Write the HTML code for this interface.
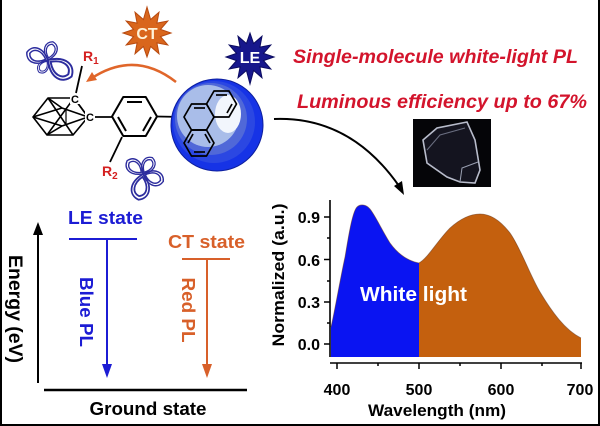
<!DOCTYPE html>
<html><head><meta charset="utf-8">
<style>
html,body{margin:0;padding:0;background:#fff;}
svg{display:block;}
text{font-family:"Liberation Sans",Arial,sans-serif;font-weight:bold;}
</style></head>
<body>
<svg width="600" height="426" viewBox="0 0 600 426" xmlns="http://www.w3.org/2000/svg">
<rect x="0" y="0" width="600" height="426" fill="#fff"/>
<!-- border -->
<rect x="0" y="0" width="2" height="426" fill="#000"/>
<rect x="598" y="0" width="2" height="426" fill="#000"/>
<rect x="0" y="424" width="600" height="2" fill="#000"/>

<defs>
<path id="lobe" d="M0,0 C8,-9 16,-7 18,0 C16,7 8,9 0,0 Z"/>
<path id="lobeIn" d="M2,0 C8,-6 14,-5 15.5,0 C14,5 8,6 2,0 Z"/>
</defs>

<!-- orbitals 1 -->
<g transform="translate(48,60)" fill="none" stroke="#2d2d9e" stroke-width="1.2">
 <g transform="rotate(-160) scale(1.25)"><use href="#lobe"/><use href="#lobeIn"/></g>
 <g transform="rotate(-75) scale(1.05)"><use href="#lobe"/><use href="#lobeIn"/></g>
 <g transform="rotate(35) scale(1.6)"><use href="#lobe"/><use href="#lobeIn"/></g>
 <g transform="rotate(125) scale(0.85)"><use href="#lobe"/><use href="#lobeIn"/></g>
</g>
<!-- orbitals 2 -->
<g transform="translate(143,174)" fill="none" stroke="#2d2d9e" stroke-width="1.2">
 <g transform="rotate(-140) scale(1.15)"><use href="#lobe"/><use href="#lobeIn"/></g>
 <g transform="rotate(-60) scale(1.05)"><use href="#lobe"/><use href="#lobeIn"/></g>
 <g transform="rotate(20) scale(1.2)"><use href="#lobe"/><use href="#lobeIn"/></g>
 <g transform="rotate(100) scale(1.45)"><use href="#lobe"/><use href="#lobeIn"/></g>
</g>

<!-- CT star -->
<polygon transform="translate(147,33)" fill="#d9661c" stroke="#b84a10" stroke-width="1"
 points="24,0 13.5,3.6 20.8,12 9.9,9.9 12,20.8 3.6,13.5 0,24 -3.6,13.5 -12,20.8 -9.9,9.9 -20.8,12 -13.5,3.6 -24,0 -13.5,-3.6 -20.8,-12 -9.9,-9.9 -12,-20.8 -3.6,-13.5 0,-26 3.6,-13.5 12,-20.8 9.9,-9.9 20.8,-12 13.5,-3.6"/>
<text x="147" y="39" font-size="16" fill="#fff3d8" text-anchor="middle">CT</text>

<!-- LE star -->
<polygon transform="translate(250,57)" fill="#17178c" stroke="#0c0c60" stroke-width="1"
 points="24,0 13.5,3.6 20.8,12 9.9,9.9 12,20.8 3.6,13.5 0,27 -3.6,13.5 -12,20.8 -9.9,9.9 -20.8,12 -13.5,3.6 -24,0 -13.5,-3.6 -20.8,-12 -9.9,-9.9 -12,-20.8 -3.6,-13.5 0,-24 3.6,-13.5 12,-20.8 9.9,-9.9 20.8,-12 13.5,-3.6"/>
<text x="250" y="63" font-size="16" fill="#fff" text-anchor="middle">LE</text>

<!-- orange arc arrow -->
<path d="M176,82 Q135,50 92,78" fill="none" stroke="#e0662a" stroke-width="2.5"/>
<polygon points="86,82 92,72 97,80" fill="#e0662a"/>

<!-- carborane -->
<g stroke="#000" stroke-width="1.6" fill="none" stroke-linejoin="round">
 <polygon points="33,117 48,98 74,98 88,117 73,135 47,135"/>
 <line x1="33" y1="117" x2="62" y2="108"/>
 <line x1="33" y1="117" x2="62" y2="126"/>
 <line x1="48" y1="98" x2="73" y2="135"/>
 <line x1="47" y1="135" x2="74" y2="98"/>
 <line x1="62" y1="108" x2="88" y2="117"/>
 <line x1="62" y1="126" x2="88" y2="117"/>
 <line x1="48" y1="98" x2="62" y2="108"/>
 <line x1="47" y1="135" x2="62" y2="126"/>
 <line x1="66" y1="108" x2="66" y2="124" stroke-width="1.2"/>
 <line x1="74" y1="98" x2="88" y2="117"/>
</g>
<rect x="70" y="93" width="10" height="11" fill="#fff"/>
<rect x="85" y="111" width="10" height="11" fill="#fff"/>
<text x="75" y="103" font-size="11" text-anchor="middle" fill="#000">C</text>
<text x="90" y="121" font-size="11" text-anchor="middle" fill="#000">C</text>
<!-- R1 bond & label -->
<line x1="82" y1="66" x2="76" y2="93" stroke="#000" stroke-width="1.8"/>
<text x="83" y="61" font-size="14" fill="#d42020">R<tspan font-size="10" dy="3">1</tspan></text>
<!-- C2 to benzene -->
<line x1="95" y1="117" x2="112" y2="117" stroke="#000" stroke-width="1.8"/>

<!-- benzene -->
<g stroke="#000" stroke-width="2" fill="none" stroke-linejoin="round">
 <polygon points="112,116.5 123.25,97 145.75,97 157,116.5 145.75,136 123.25,136"/>
 <line x1="127" y1="102" x2="142" y2="102"/>
 <line x1="151" y1="117" x2="143" y2="131"/>
 <line x1="118" y1="117" x2="126" y2="131"/>
</g>
<!-- R2 bond -->
<line x1="122" y1="137" x2="110" y2="162" stroke="#000" stroke-width="1.8"/>
<text x="102" y="176" font-size="14" fill="#d42020">R<tspan font-size="10" dy="3">2</tspan></text>

<!-- bond to phenanthrene -->
<line x1="157" y1="116.5" x2="184" y2="117" stroke="#000" stroke-width="1.8"/>

<!-- sphere -->
<circle cx="217" cy="125" r="46" fill="#1633e6" stroke="#0d1f9e" stroke-width="1"/>
<circle cx="214" cy="122" r="41" fill="#2b47e2"/>
<circle cx="211" cy="119" r="36" fill="#5068d8"/>
<circle cx="208" cy="116" r="31" fill="#a9bde9"/>
<ellipse cx="228" cy="114" rx="13" ry="19" fill="#f2f6fc"/>

<!-- phenanthrene -->
<g stroke="#000" stroke-width="1.7" fill="none" stroke-linejoin="round">
 <polygon points="214,117 206.5,130 191.5,130 184,117 191.5,104 206.5,104"/>
 <polygon points="236.5,104 229,117 214,117 206.5,104 214,91 229,91"/>
 <polygon points="214,143 206.5,156 191.5,156 184,143 191.5,130 206.5,130"/>
 <line x1="194" y1="108" x2="205" y2="108"/>
 <line x1="216" y1="95" x2="227" y2="95"/>
 <line x1="232" y1="104" x2="227" y2="113"/>
 <line x1="188" y1="143" x2="193" y2="134"/>
 <line x1="194" y1="152" x2="205" y2="152"/>
 <line x1="210" y1="143" x2="205" y2="134"/>
</g>

<!-- black curved arrow -->
<path d="M274,119 Q350,116 399,186" fill="none" stroke="#000" stroke-width="2"/>
<polygon points="404,195 394,186 402,181" fill="#000"/>

<!-- red headlines -->
<text x="293" y="63" font-size="19" font-style="italic" fill="#d3142c" textLength="285" lengthAdjust="spacingAndGlyphs">Single-molecule white-light PL</text>
<text x="297" y="108" font-size="19" font-style="italic" fill="#d3142c" textLength="290" lengthAdjust="spacingAndGlyphs">Luminous efficiency up to 67%</text>

<!-- crystal photo -->
<rect x="413" y="119" width="78" height="68" fill="#050508"/>
<polygon points="423,140 437,128 467,122 475,140 480,170 475,183 460,182 447,177 427,163" fill="#14141f" stroke="#b8bccb" stroke-width="1.6"/>
<polyline points="427,150 440,135 465,128" fill="none" stroke="#6a6e80" stroke-width="1"/>
<polyline points="460,182 462,168 478,162" fill="none" stroke="#9aa0b2" stroke-width="1"/>

<!-- ====== Energy diagram ====== -->
<line x1="38" y1="383" x2="38" y2="232" stroke="#000" stroke-width="2"/>
<polygon points="33,235 38,222 43,235" fill="#000"/>
<text transform="translate(9,309) rotate(90)" font-size="19" text-anchor="middle" fill="#000" textLength="108" lengthAdjust="spacingAndGlyphs">Energy (eV)</text>
<line x1="44" y1="390" x2="247" y2="390" stroke="#000" stroke-width="2.5"/>
<text x="148" y="415" font-size="18.5" text-anchor="middle" fill="#000" textLength="117" lengthAdjust="spacingAndGlyphs">Ground state</text>

<text x="68" y="224" font-size="18" fill="#1c1cd4" textLength="75" lengthAdjust="spacingAndGlyphs">LE state</text>
<line x1="69" y1="239" x2="137" y2="239" stroke="#1c1cd4" stroke-width="2"/>
<line x1="107" y1="239" x2="107" y2="366" stroke="#1c1cd4" stroke-width="2"/>
<polygon points="102,364 112,364 107,378" fill="#1c1cd4"/>
<text transform="translate(80,312) rotate(90)" font-size="18" text-anchor="middle" fill="#1c1cd4" textLength="70" lengthAdjust="spacingAndGlyphs">Blue PL</text>

<text x="168" y="248" font-size="18" fill="#d8602a" textLength="77" lengthAdjust="spacingAndGlyphs">CT state</text>
<line x1="182" y1="259" x2="230" y2="259" stroke="#d8602a" stroke-width="2"/>
<line x1="207" y1="259" x2="207" y2="366" stroke="#d8602a" stroke-width="2"/>
<polygon points="202,364 212,364 207,378" fill="#d8602a"/>
<text transform="translate(182,310) rotate(90)" font-size="18" text-anchor="middle" fill="#d8602a" textLength="65" lengthAdjust="spacingAndGlyphs">Red PL</text>

<!-- ====== Spectrum chart ====== -->
<path d="M331,357 L331,327 C334,315 340,280 345,257 C348,240 352,212 357,207 C360,204 366,204 370,209 C375,215 383,232 390,243 C398,254 408,261 419,263 L419,357 Z" fill="#0a14f2"/>
<path d="M419,357 L419,263 C428,258 438,240 450,228 C460,219 470,214 480,214 C490,214 500,220 510,233 C520,247 530,275 540,292 C552,312 565,330 581,338 L581,357 Z" fill="#c4600e"/>
<path d="M331,327 C334,315 340,280 345,257 C348,240 352,212 357,207 C360,204 366,204 370,209 C375,215 383,232 390,243 C398,254 408,261 419,263 C428,258 438,240 450,228 C460,219 470,214 480,214 C490,214 500,220 510,233 C520,247 530,275 540,292 C552,312 565,330 581,338" fill="none" stroke="#6a3a20" stroke-width="0.8" opacity="0.6"/>

<text x="360" y="301" font-size="20" fill="#fff" textLength="107" lengthAdjust="spacingAndGlyphs">White light</text>

<!-- y axis -->
<line x1="330" y1="200" x2="330" y2="357" stroke="#000" stroke-width="1.6"/>
<g stroke="#000" stroke-width="1.5">
 <line x1="324" y1="217" x2="330" y2="217"/>
 <line x1="324" y1="259.5" x2="330" y2="259.5"/>
 <line x1="324" y1="302" x2="330" y2="302"/>
 <line x1="324" y1="344" x2="330" y2="344"/>
 <line x1="327" y1="238" x2="330" y2="238"/>
 <line x1="327" y1="281" x2="330" y2="281"/>
 <line x1="327" y1="323" x2="330" y2="323"/>
</g>
<g font-size="16" text-anchor="end" fill="#000">
 <text x="320" y="223">0.9</text>
 <text x="320" y="266">0.6</text>
 <text x="320" y="308">0.3</text>
 <text x="320" y="350">0.0</text>
</g>
<text transform="translate(284,275) rotate(-90)" font-size="17" text-anchor="middle" fill="#000" textLength="143" lengthAdjust="spacingAndGlyphs">Normalized (a.u.)</text>

<!-- x axis -->
<line x1="330" y1="363" x2="582" y2="363" stroke="#000" stroke-width="1.6"/>
<g stroke="#000" stroke-width="1.5">
 <line x1="337" y1="363" x2="337" y2="369"/>
 <line x1="419" y1="363" x2="419" y2="369"/>
 <line x1="501" y1="363" x2="501" y2="369"/>
 <line x1="581" y1="363" x2="581" y2="369"/>
 <line x1="378" y1="363" x2="378" y2="366"/>
 <line x1="460" y1="363" x2="460" y2="366"/>
 <line x1="542" y1="363" x2="542" y2="366"/>
</g>
<g font-size="16" text-anchor="middle" fill="#000">
 <text x="337" y="395">400</text>
 <text x="419" y="395">500</text>
 <text x="501" y="395">600</text>
 <text x="580" y="395">700</text>
</g>
<text x="437" y="416" font-size="17" text-anchor="middle" fill="#000" textLength="138" lengthAdjust="spacingAndGlyphs">Wavelength (nm)</text>
</svg>
</body></html>
